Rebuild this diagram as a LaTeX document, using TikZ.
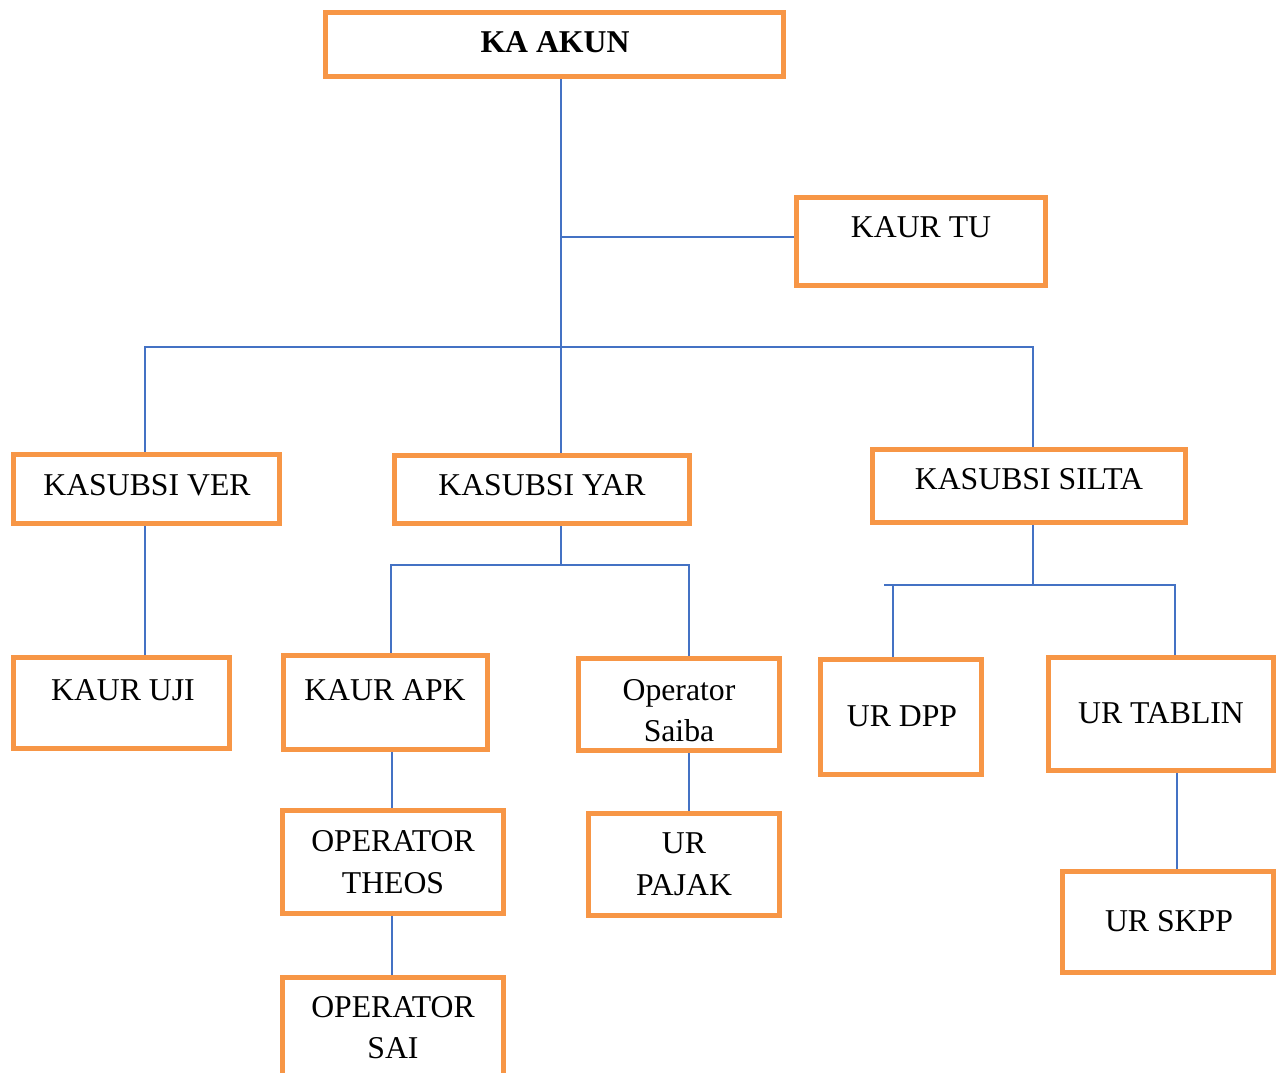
\documentclass[tikz,border=0pt]{standalone}
\usepackage{fontspec}
\setmainfont{Liberation Serif}
\usetikzlibrary{fit}
\definecolor{boxorange}{HTML}{F79646}
\definecolor{linkblue}{HTML}{4472C4}
\tikzset{
  box/.style={draw=boxorange, line width=3.8pt, rectangle, inner sep=0pt, fill=white},
  txt/.style={anchor=base, inner sep=0pt, font=\fontsize{23.8pt}{28pt}\selectfont},
  link/.style={draw=linkblue, line width=1.5pt}
}
\begin{document}
\begin{tikzpicture}[x=0.75pt, y=-0.75pt]
\clip (0,0) rectangle (1283,1073);
\fill[white] (0,0) rectangle (1283,1073);
% junction coordinates
\coordinate (jm) at (561,237);
\coordinate (hl) at (145,347);
\coordinate (hm) at (561,347);
\coordinate (hr) at (1033,347);
\coordinate (yj) at (561,565);
\coordinate (yl) at (391,565);
\coordinate (yr) at (689,565);
\coordinate (sj) at (1033,585);
\coordinate (sl0) at (884,585);
\coordinate (sl) at (893,585);
\coordinate (sr) at (1175,585);
% boxes
\node[box, fit={(325.5,12.5)(783.5,76.5)}] (kaakun) {};
\node[box, fit={(796.5,197.5)(1045.5,285.5)}] (kaurtu) {};
\node[box, fit={(13.5,454.5)(279.5,523.5)}] (ver) {};
\node[box, fit={(394.5,455.5)(689.5,523.5)}] (yar) {};
\node[box, fit={(872.5,449.5)(1185.5,522.5)}] (silta) {};
\node[box, fit={(13.5,657.5)(229.5,748.5)}] (uji) {};
\node[box, fit={(283.5,655.5)(487.5,749.5)}] (apk) {};
\node[box, fit={(578.5,658.5)(779.5,750.5)}] (saiba) {};
\node[box, fit={(820.5,659.5)(981.5,774.5)}] (dpp) {};
\node[box, fit={(1048.5,657.5)(1273.5,770.5)}] (tablin) {};
\node[box, fit={(282.5,810.5)(503.5,913.5)}] (theos) {};
\node[box, fit={(588.5,813.5)(779.5,915.5)}] (pajak) {};
\node[box, fit={(282.5,977.5)(503.5,1110)}] (sai) {};
\node[box, fit={(1062.5,871.5)(1273.5,972.5)}] (skpp) {};
% connectors
\draw[link] (kaakun.south -| jm) -- (yar.north -| jm);
\draw[link] (jm) -- (jm -| kaurtu.west);
\draw[link] (ver.north -| hl) -- (hl) -- (hr) -- (silta.north -| hr);
\draw[link] (ver.south -| hl) -- (uji.north -| hl);
\draw[link] (yar.south -| yj) -- (yj);
\draw[link] (apk.north -| yl) -- (yl) -- (yr) -- (saiba.north -| yr);
\draw[link] (apk.south -| 392,0) -- (theos.north -| 392,0);
\draw[link] (theos.south -| 392,0) -- (sai.north -| 392,0);
\draw[link] (saiba.south -| yr) -- (pajak.north -| yr);
\draw[link] (silta.south -| sj) -- (sj);
\draw[link] (sl0) -- (sr) -- (tablin.north -| sr);
\draw[link] (sl) -- (dpp.north -| sl);
\draw[link] (tablin.south -| 1177,0) -- (skpp.north -| 1177,0);
% texts
\node[txt, font=\fontsize{23.8pt}{28pt}\selectfont\bfseries] (t1) at (555,53) {KA AKUN};
\node[txt] (t2) at (921,238) {KAUR TU};
\node[txt] (t3) at (147,496) {KASUBSI VER};
\node[txt] (t4) at (542,496) {KASUBSI YAR};
\node[txt] (t5) at (1029,489) {KASUBSI SILTA};
\node[txt] (t6) at (123,700) {KAUR UJI};
\node[txt] (t7) at (385,700) {KAUR APK};
\node[txt] (t8a) at (679,700) {Operator};
\node[txt] (t8b) at (679,741) {Saiba};
\node[txt] (t9) at (902,726) {UR DPP};
\node[txt] (t10) at (1161,723) {UR TABLIN};
\node[txt] (t11a) at (393,851) {OPERATOR};
\node[txt] (t11b) at (393,893) {THEOS};
\node[txt] (t12a) at (684,853) {UR};
\node[txt] (t12b) at (684,895) {PAJAK};
\node[txt] (t13a) at (393,1017) {OPERATOR};
\node[txt] (t13b) at (393,1058) {SAI};
\node[txt] (t14) at (1169,931) {UR SKPP};
\end{tikzpicture}
\end{document}
